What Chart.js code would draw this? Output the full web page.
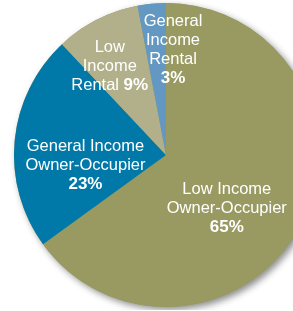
<!DOCTYPE html>
<html>
<head>
<meta charset="utf-8">
<script src="https://cdn.jsdelivr.net/npm/chart.js@4/dist/chart.umd.min.js"></script>
<style>
  html, body { margin: 0; padding: 0; background: #fff; overflow: hidden; }
  body { width: 293px; height: 311px; position: relative; }
  #wrap { position: absolute; left: 0; top: 0; width: 332px; height: 310px; }
</style>
</head>
<body>
<div id="wrap"><canvas id="pie"></canvas></div>
<script>
// slices, clockwise from 12 o'clock
const categories = [
  "Low Income Owner-Occupier",
  "General Income Owner-Occupier",
  "Low Income Rental",
  "General Income Rental"
];
const values = [65, 23, 9, 3];
const nameLines = [
  ["Low Income", "Owner-Occupier"],
  ["General Income", "Owner-Occupier"],
  ["Low", "Income", "Rental"],
  ["General", "Income", "Rental"]
];
const colors = ["#999a62", "#0078a8", "#b1b08a", "#6398c2"];

// label block centres, in units of the pie radius from its centre
const labelPos = [
  { dx: 0.40, dy: 0.35, inline: false },
  { dx: -0.53, dy: 0.07, inline: false },
  { dx: -0.37, dy: -0.585, inline: true },
  { dx: 0.046, dy: -0.69, inline: false }
];

const FONT = '"Liberation Sans", Arial, Helvetica, sans-serif';
const LINE_H = 19;

const shadowPlugin = {
  id: "shadow",
  beforeDatasetsDraw(chart) {
    const arc = chart.getDatasetMeta(0).data[0];
    if (!arc) return;
    const ctx = chart.ctx;
    ctx.save();
    ctx.shadowColor = "rgba(0,0,0,0.45)";
    ctx.shadowBlur = 7;
    ctx.shadowOffsetX = 3;
    ctx.shadowOffsetY = 3;
    ctx.fillStyle = colors[0];
    ctx.beginPath();
    ctx.arc(arc.x, arc.y, arc.outerRadius, 0, Math.PI * 2);
    ctx.fill();
    ctx.restore();
  }
};

const labelPlugin = {
  id: "sliceLabels",
  afterDatasetsDraw(chart) {
    const meta = chart.getDatasetMeta(0);
    const ctx = chart.ctx;
    ctx.save();
    ctx.fillStyle = "#ffffff";
    ctx.textBaseline = "middle";
    meta.data.forEach((arc, i) => {
      const r = arc.outerRadius;
      const cx = arc.x + labelPos[i].dx * r;
      const cy = arc.y + labelPos[i].dy * r;
      const lines = nameLines[i].slice();
      const pct = values[i] + "%";
      const n = labelPos[i].inline ? lines.length : lines.length + 1;
      let y = cy - ((n - 1) * LINE_H) / 2;
      const normal = "16.5px " + FONT;
      const bold = "bold 17px " + FONT;
      lines.forEach((txt, k) => {
        const last = k === lines.length - 1;
        if (last && labelPos[i].inline) {
          ctx.font = normal;
          const w1 = ctx.measureText(txt + " ").width;
          ctx.font = bold;
          const w2 = ctx.measureText(pct).width;
          let x = cx - (w1 + w2) / 2;
          ctx.textAlign = "left";
          ctx.font = normal;
          ctx.fillText(txt + " ", x, y);
          ctx.font = bold;
          ctx.fillText(pct, x + w1, y);
        } else {
          ctx.textAlign = "center";
          ctx.font = normal;
          ctx.fillText(txt, cx, y);
        }
        y += LINE_H;
      });
      if (!labelPos[i].inline) {
        ctx.textAlign = "center";
        ctx.font = bold;
        ctx.fillText(pct, cx, y);
      }
    });
    ctx.restore();
  }
};

new Chart(document.getElementById("pie"), {
  type: "pie",
  data: {
    labels: categories,
    datasets: [{
      data: values,
      backgroundColor: colors,
      borderWidth: 0,
      hoverOffset: 0
    }]
  },
  options: {
    responsive: true,
    maintainAspectRatio: false,
    animation: false,
    layout: { padding: 3 },
    plugins: {
      legend: { display: false },
      tooltip: { enabled: false }
    }
  },
  plugins: [shadowPlugin, labelPlugin]
});
</script>
</body>
</html>
